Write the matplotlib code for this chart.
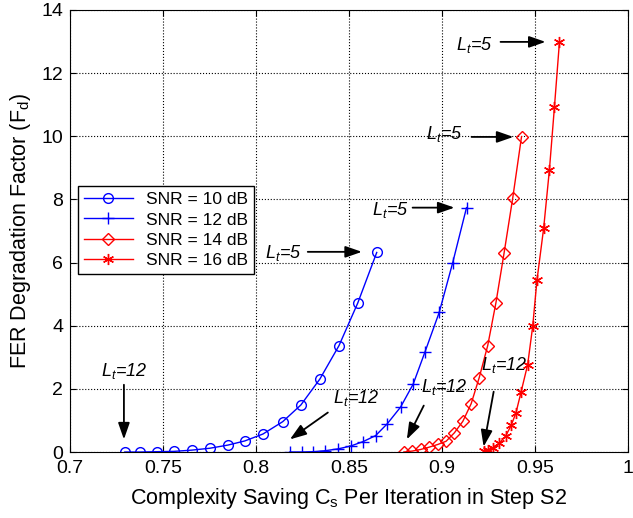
import matplotlib

matplotlib.use("Agg")
import matplotlib.pyplot as plt
import numpy as np

plt.rcParams["font.family"] = ["Liberation Sans", "DejaVu Sans"]
plt.rcParams["mathtext.fontset"] = "custom"
plt.rcParams["mathtext.rm"] = "Liberation Sans"
plt.rcParams["mathtext.it"] = "Liberation Sans:italic"

# values
cs_10 = [0.7295, 0.7376, 0.7468, 0.7559, 0.7656, 0.7753, 0.7850, 0.7940,
         0.8038, 0.8144, 0.8242, 0.8344, 0.8447, 0.8548, 0.8650]
fd_10 = [0.00, 0.00, 0.01, 0.02, 0.06, 0.12, 0.22, 0.35,
         0.57, 0.96, 1.49, 2.31, 3.37, 4.72, 6.32]

cs_12 = [0.8183, 0.8246, 0.8308, 0.8371, 0.8443, 0.8510, 0.8577, 0.8644,
         0.8706, 0.8778, 0.8846, 0.8909, 0.8986, 0.9058, 0.9133]
fd_12 = [0.00, 0.00, 0.01, 0.04, 0.10, 0.19, 0.33, 0.52,
         0.89, 1.42, 2.15, 3.16, 4.42, 5.98, 7.74]

cs_14 = [0.8796, 0.8841, 0.8886, 0.8930, 0.8979, 0.9023, 0.9068, 0.9113,
         0.9158, 0.9201, 0.9247, 0.9291, 0.9335, 0.9382, 0.9429]
fd_14 = [0.00, 0.03, 0.08, 0.15, 0.24, 0.34, 0.61, 0.97,
         1.53, 2.35, 3.37, 4.72, 6.30, 8.06, 9.99]

cs_16 = [0.9225, 0.9248, 0.9276, 0.9308, 0.9343, 0.9373, 0.9399, 0.9426,
         0.9462, 0.9489, 0.9512, 0.9548, 0.9579, 0.9606, 0.9633]
fd_16 = [0.03, 0.07, 0.14, 0.27, 0.50, 0.84, 1.24, 1.89,
         2.77, 3.98, 5.44, 7.09, 8.94, 10.93, 12.99]

series_labels = ["SNR = 10 dB", "SNR = 12 dB", "SNR = 14 dB", "SNR = 16 dB"]

# (label, text pos, arrow tail, arrow tip)
notes = [
    ("12", (0.729, 2.55), (0.729, 2.13), (0.729, 0.40)),
    ("5", (0.8145, 6.31), (0.8279, 6.34), (0.857, 6.34)),
    ("5", (0.8725, 7.67), (0.8843, 7.74), (0.9068, 7.74)),
    ("12", (0.8538, 1.72), (0.8387, 1.25), (0.8183, 0.40)),
    ("5", (0.9011, 10.08), (0.916, 9.98), (0.9385, 9.98)),
    ("12", (0.9011, 2.07), (0.8903, 1.47), (0.8812, 0.40)),
    ("5", (0.9177, 12.9), (0.9316, 12.99), (0.9558, 12.99)),
    ("12", (0.9337, 2.77), (0.9279, 1.91), (0.9225, 0.17)),
]

fig = plt.figure(figsize=(6.33, 5.18), dpi=100)
ax = fig.add_axes([0.1106, 0.1274, 0.881, 0.8533])

ax.plot(cs_10, fd_10, color="blue", lw=1, marker="o", ms=7, mfc="none", mec="blue", label=series_labels[0])
ax.plot(cs_12, fd_12, color="blue", lw=1, marker="+", ms=9, mew=1, label=series_labels[1])
ax.plot(cs_14, fd_14, color="red", lw=1, marker="D", ms=6, mfc="none", mec="red", label=series_labels[2])
ax.plot(cs_16, fd_16, color="red", lw=1, marker=(6, 2, 0), ms=8, mew=1, label=series_labels[3])

for lt, txt, tail, tip in notes:
    ax.text(txt[0], txt[1], "$L_t$=" + lt, style="italic", fontsize=13, ha="center", va="center")
    ax.annotate("", xy=tip, xytext=tail,
                arrowprops=dict(arrowstyle="-|>,head_length=1.0,head_width=0.35", color="black", lw=1.3,
                                shrinkA=0, shrinkB=0))

ax.set_xlim(0.7, 1.0)
ax.set_ylim(0, 14)
xt = np.arange(0.7, 1.0001, 0.05)
ax.set_xticks(xt)
ax.set_xticklabels([f"{v:g}" for v in np.round(xt, 2)])
ax.set_yticks(np.arange(0, 15, 2))
ax.tick_params(direction="in", labelsize=14, top=True, right=True, length=4)
ax.tick_params(axis="x", pad=6)
ax.tick_params(axis="y", pad=5)
ax.grid(True, color="black", ls=":", lw=0.8)
ax.set_xlabel(r"Complexity Saving C$_\mathrm{s}$ Per Iteration in Step S2", fontsize=15.5, labelpad=6)
ax.set_ylabel(r"FER Degradation Factor (F$_\mathrm{d}$)", fontsize=15.5, labelpad=6)

ax.legend(loc="upper left", bbox_to_anchor=(0.014, 0.602), borderaxespad=0, fontsize=12.5,
          fancybox=False, edgecolor="black", framealpha=1, handlelength=2.8,
          labelspacing=0.3, borderpad=0.35)

fig.savefig("out.png", dpi=100)
